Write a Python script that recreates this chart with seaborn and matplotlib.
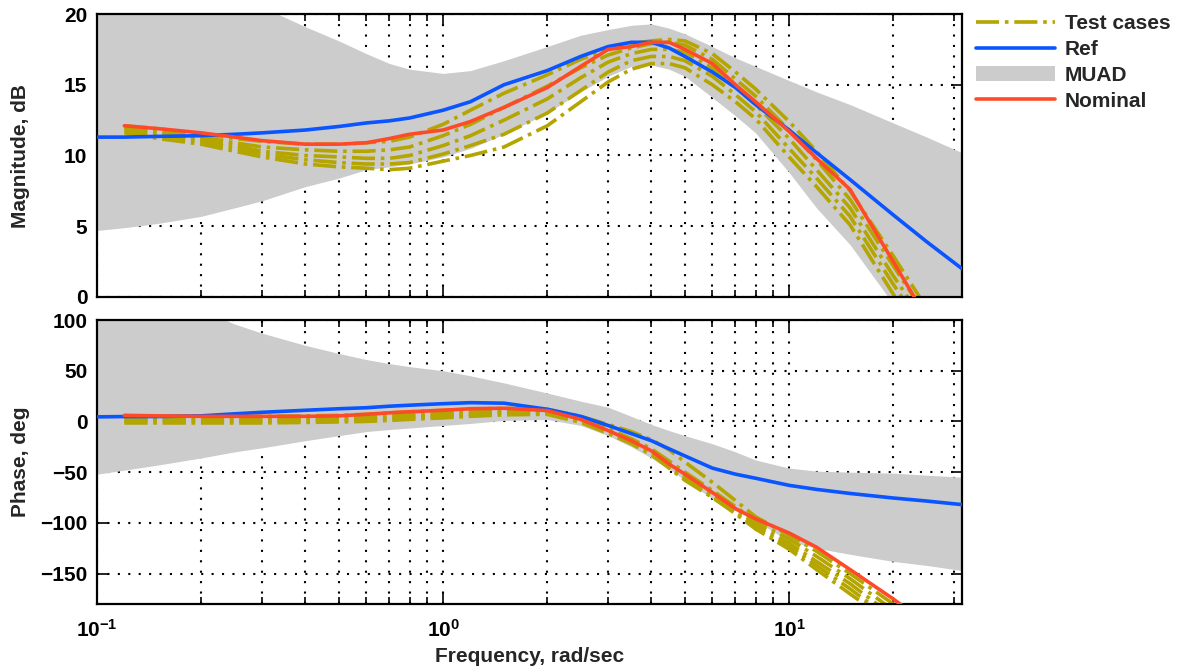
import numpy as np
import pandas as pd
import matplotlib
matplotlib.use("Agg")
import matplotlib.pyplot as plt
import seaborn as sns

# ---------------- data ----------------
freq = [0.1, 0.12, 0.15, 0.2, 0.25, 0.3, 0.4, 0.5, 0.6, 0.7, 0.8, 1.0, 1.2, 1.5,
        2.0, 2.5, 3.0, 3.5, 4.0, 4.5, 5.0, 6.0, 7.0, 8.0, 10.0, 12.0, 15.0, 20.0,
        25.0, 31.6]
nan = float("nan")

# Magnitude, dB
mag_ref = [11.3, 11.3, 11.35, 11.4, 11.5, 11.6, 11.8, 12.05, 12.3, 12.45, 12.65, 13.2,
           13.8, 15.0, 16.0, 17.0, 17.7, 18.0, 18.0, 17.6, 17.0, 15.9, 14.8, 13.6,
           11.8, 10.2, 8.3, 5.8, 3.9, 2.0]
mag_nominal = [nan, 12.1, 11.9, 11.6, 11.3, 11.05, 10.8, 10.8, 10.9, 11.2, 11.5, 11.8,
               12.4, 13.4, 14.8, 16.3, 17.5, 17.7, 18.0, 18.0, 17.5, 16.5, 15.0, 13.8,
               11.7, 9.8, 7.6, 2.5, -1.5, -6.0]
mag_muad_hi = [26.0, 25.5, 24.5, 23.0, 21.5, 20.5, 19.1, 18.1, 17.2, 16.5, 16.1, 15.8,
               16.0, 16.7, 17.7, 18.5, 18.9, 19.2, 19.3, 19.0, 18.6, 17.7, 16.9, 16.3,
               15.3, 14.5, 13.6, 12.3, 11.3, 10.2]
mag_muad_lo = [4.7, 4.9, 5.2, 5.7, 6.3, 6.8, 7.8, 8.4, 9.0, 9.2, 9.4, 9.9, 10.5, 11.5,
               13.0, 14.5, 15.6, 16.3, 16.4, 16.1, 15.6, 14.1, 12.8, 11.6, 8.8, 6.3,
               3.7, -0.5, -4.0, -8.0]
mag_test1 = [nan, 12.1, 11.9, 11.5, 11.2, 11.0, 10.8, 10.8, 10.9, 11.0, 11.3, 12.2, 13.2,
             14.4, 15.7, 16.8, 17.5, 17.9, 18.1, 18.2, 18.1, 17.2, 15.9, 14.7, 12.4, 10.3,
             7.5, 2.9, -0.8, -4.5]
mag_test2 = [nan, 12.0, 11.7, 11.3, 10.9, 10.6, 10.4, 10.3, 10.3, 10.4, 10.6, 11.4, 12.2,
             13.4, 14.9, 16.2, 17.1, 17.6, 17.9, 18.0, 17.8, 16.8, 15.4, 14.2, 11.8, 9.7,
             6.9, 2.2, -1.4, -5.5]
mag_test3 = [nan, 11.9, 11.6, 11.1, 10.7, 10.3, 10.0, 9.9, 9.8, 9.8, 10.0, 10.7, 11.4,
             12.5, 14.0, 15.5, 16.6, 17.2, 17.5, 17.5, 17.3, 16.2, 14.9, 13.6, 11.2, 9.0,
             6.3, 1.5, -2.0, -6.0]
mag_test4 = [nan, 11.7, 11.4, 11.0, 10.5, 10.1, 9.7, 9.5, 9.4, 9.4, 9.5, 10.1, 10.7,
             11.5, 13.0, 14.6, 15.9, 16.7, 17.0, 17.0, 16.7, 15.6, 14.3, 13.1, 10.5, 8.4,
             5.7, 0.9, -2.6, -6.5]
mag_test5 = [nan, 11.6, 11.2, 10.8, 10.3, 9.9, 9.4, 9.2, 9.1, 9.0, 9.1, 9.6, 10.0,
             10.6, 12.1, 13.8, 15.2, 16.1, 16.5, 16.5, 16.2, 15.0, 13.8, 12.6, 9.9, 7.8,
             5.1, 0.2, -3.3, -7.0]

# Phase, deg
ph_ref = [4.5, 4.8, 4.8, 5.5, 7.5, 9.0, 11.0, 12.5, 13.5, 15.0, 16.0, 17.5, 18.5, 18.0,
          12.0, 5.0, -4.0, -12.0, -19.0, -27.0, -34.0, -46.0, -52.0, -56.0, -63.0, -67.0,
          -71.0, -75.5, -78.5, -82.0]
ph_nominal = [nan, 6.0, 5.5, 5.0, 5.0, 5.0, 5.0, 5.5, 7.0, 8.5, 9.5, 11.0, 12.5, 13.0,
              10.7, 2.0, -9.0, -19.0, -29.0, -42.0, -52.0, -70.0, -86.0, -96.0, -110.0,
              -124.0, -146.0, -175.0, -200.0, -230.0]
ph_muad_hi = [160, 150, 130, 110, 96, 87, 75, 67, 61, 57, 54, 50, 45, 38, 28, 20, 14, 5,
              -3, -9, -14, -22, -30, -38, -46, -49, -50, -51, -53, -55]
ph_muad_lo = [-52, -48, -43, -36, -30, -26, -19, -14, -10, -8, -6.5, -4, -2, 1, 2, -4,
              -14, -25, -36, -47, -58, -76, -88, -98, -118, -125, -131, -138, -142, -147]
ph_test1 = [nan, 5, 5, 5, 5, 5, 5.5, 6, 7, 8.5, 9.5, 11, 12, 13, 12, 5, -3, -10, -18, -28,
            -40, -60, -78, -94, -112, -128, -150, -180, -205, -235]
ph_test2 = [nan, 3, 3, 3, 3, 3, 3.5, 4, 5, 6, 7, 8.5, 10, 11, 10, 3, -7, -17, -27, -39,
            -50, -68, -84, -98, -116, -133, -155, -186, -212, -240]
ph_test3 = [nan, 1.5, 1.5, 1.5, 1.5, 1.5, 2, 2.5, 3, 4, 5, 6.5, 8, 9.5, 9, 1, -9, -19,
            -29, -42, -53, -70, -86, -101, -120, -138, -160, -192, -218, -245]
ph_test4 = [nan, 0, 0, 0, 0, 0, 0.5, 1, 1.5, 2.5, 3.5, 5, 6.5, 8, 8, 0, -11, -21, -31,
            -44, -56, -73, -89, -104, -123, -142, -165, -197, -224, -250]
ph_test5 = [nan, -1.5, -1.5, -1.5, -1.5, -1.5, -1, -0.5, 0, 1, 2, 3.5, 5, 6.5, 7, -1,
            -12, -22, -33, -46, -58, -75, -91, -106, -126, -146, -170, -200, -228, -255]

legend_labels = ["Test cases", "Ref", "MUAD", "Nominal"]
mag_yticks = [0, 5, 10, 15, 20]
ph_yticks = [-150, -100, -50, 0, 50, 100]

# ---------------- style ----------------
sns.set_theme(style="white")
plt.rcParams["font.family"] = ["Liberation Sans", "DejaVu Sans"]
plt.rcParams["font.weight"] = "bold"
plt.rcParams["axes.labelweight"] = "bold"
plt.rcParams["mathtext.fontset"] = "custom"
for k in ["rm", "it", "bf", "sf"]:
    plt.rcParams["mathtext." + k] = "Liberation Sans:bold"
plt.rcParams["axes.unicode_minus"] = True

C_TEST = "#b4a500"
C_REF = "#0a55ff"
C_MUAD = "#cccccc"
C_NOM = "#ff4a2a"

fig = plt.figure(figsize=(11.8, 6.68), dpi=100)
ax1 = fig.add_axes([97 / 1180, 1 - 297 / 668, 865 / 1180, 283 / 668])
ax2 = fig.add_axes([97 / 1180, 1 - 604 / 668, 865 / 1180, 284 / 668], sharex=ax1)

tests_mag = [mag_test1, mag_test2, mag_test3, mag_test4, mag_test5]
tests_ph = [ph_test1, ph_test2, ph_test3, ph_test4, ph_test5]


def draw(ax, lo, hi, tests, ref, nom):
    muad = ax.fill_between(freq, lo, hi, color=C_MUAD, lw=0, zorder=1)
    test_line = None
    for t in tests:
        sns.lineplot(x=freq, y=t, ax=ax, color=C_TEST, linestyle="-.", lw=2.6,
                     errorbar=None, sort=False, zorder=2)
        test_line = ax.lines[-1]
    sns.lineplot(x=freq, y=ref, ax=ax, color=C_REF, lw=2.6, errorbar=None,
                 sort=False, zorder=3)
    ref_line = ax.lines[-1]
    sns.lineplot(x=freq, y=nom, ax=ax, color=C_NOM, lw=2.6, errorbar=None,
                 sort=False, zorder=4)
    nom_line = ax.lines[-1]
    return [test_line, ref_line, muad, nom_line]


handles = draw(ax1, mag_muad_lo, mag_muad_hi, tests_mag, mag_ref, mag_nominal)
draw(ax2, ph_muad_lo, ph_muad_hi, tests_ph, ph_ref, ph_nominal)

for ax in (ax1, ax2):
    ax.set_xscale("log")
    ax.set_xlim(0.1, 31.6)
    ax.set_axisbelow(True)
    ax.xaxis.grid(True, which="both", color="black", linestyle=(0, (1, 4)), lw=1.5)
    ax.yaxis.grid(True, which="major", color="black", linestyle=(0, (1, 4)), lw=1.5)
    ax.tick_params(which="both", direction="in", top=True, right=True,
                   bottom=True, left=True, labelsize=15, width=1.2, colors="black")
    ax.tick_params(which="major", length=8)
    ax.tick_params(which="minor", length=5)
    ax.tick_params(axis="y", pad=7)
    ax.tick_params(axis="x", pad=11)
    for s in ax.spines.values():
        s.set_visible(True)
        s.set_color("black")
        s.set_linewidth(1.6)
    if ax.get_legend() is not None:
        ax.get_legend().remove()

ax1.set_ylim(0, 20)
ax1.set_yticks(mag_yticks)
ax2.set_ylim(-180, 100)
ax2.set_yticks(ph_yticks)
ax1.tick_params(axis="x", which="both", labelbottom=False)

ax1.set_ylabel("Magnitude, dB", fontsize=15, fontweight="bold")
ax2.set_ylabel("Phase, deg", fontsize=15, fontweight="bold")
ax2.set_xlabel("Frequency, rad/sec", fontsize=15, fontweight="bold")
ax1.yaxis.set_label_coords(-0.078, 0.5)
ax2.yaxis.set_label_coords(-0.078, 0.5)
ax2.xaxis.set_label_coords(0.5, -0.152)

for lab in ax1.get_yticklabels() + ax2.get_yticklabels() + ax2.get_xticklabels():
    lab.set_fontweight("bold")

fig.legend(handles, legend_labels, loc="upper left",
           bbox_to_anchor=(976 / 1180, 1 - 14 / 668), frameon=False,
           borderaxespad=0, borderpad=0, handlelength=3.8, handletextpad=0.45,
           labelspacing=0.33, prop={"size": 15, "weight": "bold"})

fig.savefig("out.png", dpi=100)
